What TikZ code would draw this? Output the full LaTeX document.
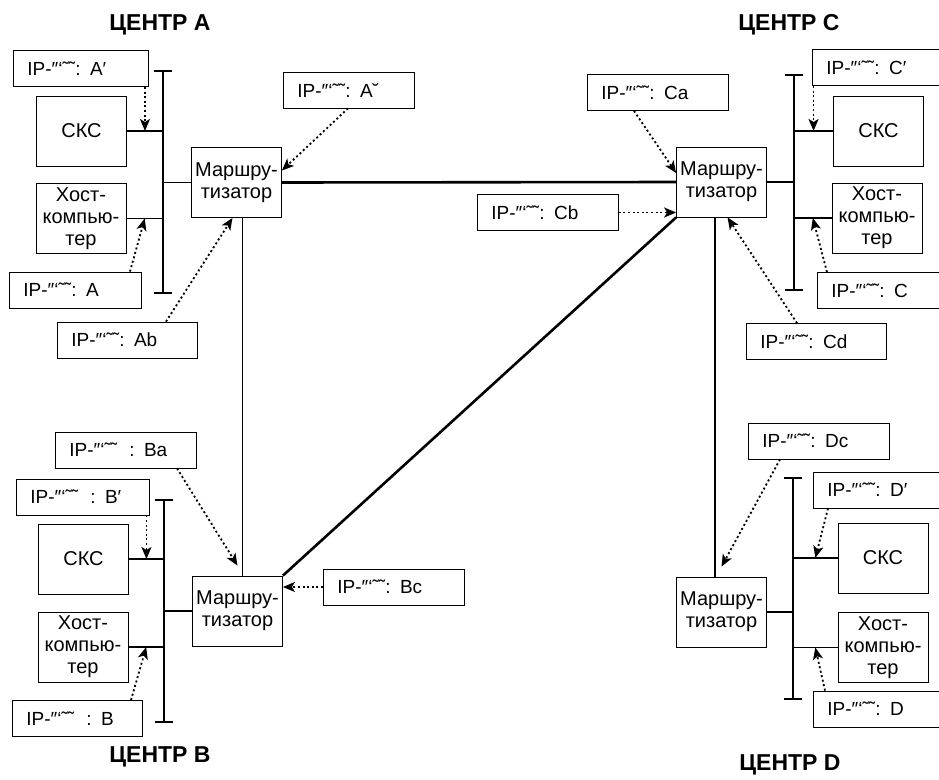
\documentclass[tikz,border=0pt]{standalone}
\usepackage{fontspec}
\setmainfont{Liberation Sans}
\usetikzlibrary{arrows.meta,calc}
\newcommand{\ipx}{IP-″‘˜˜}
\begin{document}
\begin{tikzpicture}[x=1pt,y=-1pt,
	box/.style={draw,line width=.8pt,inner sep=0pt,minimum width=90pt,minimum height=70pt,align=center,font=\fontsize{20}{22}\selectfont},
	ipbox/.style={draw,line width=.8pt,anchor=west,minimum height=36pt,text width=#1,inner xsep=14pt,inner ysep=0pt,align=left,font=\fontsize{19}{21}\selectfont},
	ipbox/.default=110pt,
	title/.style={font=\fontsize{23}{26}\selectfont\bfseries},
	bus/.style={line width=2.6pt},
	stub/.style={line width=1.6pt},
	trunk/.style={line width=2.6pt},
	iparrow/.style={dash pattern=on 2pt off 2.6pt,line width=1.8pt,-{Stealth[length=12pt,width=10pt,inset=3pt]}}]
	\useasboundingbox (0,0) rectangle (939,779);
	\clip (0,0) rectangle (939,779);
	% titles
	\node[title] (cA) at (160,25) {ЦЕНТР A};
	\node[title] (cC) at (789,25) {ЦЕНТР C};
	\node[title] (cB) at (160,757) {ЦЕНТР B};
	\node[title] (cD) at (790,765) {ЦЕНТР D};
	% routers
	\node[box] (rtA) at (236.5,182.5) {Маршру-\\тизатор};
	\node[box] (rtC) at (721.5,182) {Маршру-\\тизатор};
	\node[box] (rtB) at (237.5,611) {Маршру-\\тизатор};
	\node[box] (rtD) at (721.5,612) {Маршру-\\тизатор};
	% servers and hosts
	\node[box] (skcA) at (81.5,131) {СКС};
	\node[box] (hstA) at (81,218.5) {Хост-\\компью-\\тер};
	\node[box] (skcB) at (83.5,559) {СКС};
	\node[box] (hstB) at (83,647) {Хост-\\компью-\\тер};
	\node[box] (skcC) at (878.5,131) {СКС};
	\node[box] (hstC) at (877,218) {Хост-\\компью-\\тер};
	\node[box] (skcD) at (883,558) {СКС};
	\node[box] (hstD) at (883,647.5) {Хост-\\компью-\\тер};
	% address labels
	\node[ipbox=107pt] (ipA1) at (13,68.5) {\ipx: A′};
	\node[ipbox=103pt] (ipAr) at (283,90) {\ipx: A˘};
	\node[ipbox=104pt] (ipA) at (9,290) {\ipx: A};
	\node[ipbox=112pt] (ipAb) at (57,340) {\ipx: Ab};
	\node[ipbox=113pt] (ipCa) at (587,92.5) {\ipx: Ca};
	\node[ipbox=113pt] (ipCb) at (477,212.5) {\ipx: Cb};
	\node[ipbox] (ipC1) at (812,67.5) {\ipx: C′};
	\node[ipbox] (ipC) at (817,290.5) {\ipx: C};
	\node[ipbox=112pt] (ipCd) at (746,341.5) {\ipx: Cd};
	\node[ipbox=113pt] (ipBa) at (55,450) {\ipx\hspace{12pt}: Ba};
	\node[ipbox=105pt] (ipB1) at (16,497) {\ipx\hspace{12pt}: B′};
	\node[ipbox=102pt] (ipB) at (12,718.5) {\ipx\hspace{12pt}: B};
	\node[ipbox=113pt] (ipBc) at (323,587) {\ipx: Bc};
	\node[ipbox=113pt] (ipDc) at (748,441) {\ipx: Dc};
	\node[ipbox] (ipD1) at (813,490) {\ipx: D′};
	\node[ipbox] (ipD) at (813,709) {\ipx: D};
	% buses
	\coordinate (busAt) at (163,71); \coordinate (busAb) at (163,293);
	\coordinate (busBt) at (164,500); \coordinate (busBb) at (164,722);
	\coordinate (busCt) at (794,75); \coordinate (busCb) at (794,290);
	\coordinate (busDt) at (793,478); \coordinate (busDb) at (793,699);
	\foreach \b in {A,B,C,D}{
		\draw[bus] (bus\b t) -- (bus\b b);
		\draw[bus] ([xshift=-9pt]bus\b t) -- ([xshift=9pt]bus\b t);
		\draw[bus] ([xshift=-9pt]bus\b b) -- ([xshift=9pt]bus\b b);
	}
	\foreach \b in {A,B}{
		\draw[stub] (skc\b.east) -- (skc\b.east -| bus\b t);
		\draw[stub] (hst\b.east) -- (hst\b.east -| bus\b t);
		\draw[stub] (rt\b.west) -- (rt\b.west -| bus\b t);
		\coordinate (sk\b) at ($(skc\b.east)!.5!(skc\b.east -| bus\b t)$);
		\coordinate (ho\b) at ($(hst\b.east)!.5!(hst\b.east -| bus\b t)$);
	}
	\foreach \b in {C,D}{
		\draw[stub] (skc\b.west) -- (skc\b.west -| bus\b t);
		\draw[stub] (hst\b.west) -- (hst\b.west -| bus\b t);
		\draw[stub] (rt\b.east) -- (rt\b.east -| bus\b t);
		\coordinate (sk\b) at ($(skc\b.west)!.5!(skc\b.west -| bus\b t)$);
		\coordinate (ho\b) at ($(hst\b.west)!.5!(hst\b.west -| bus\b t)$);
	}
	% links between routers
	\draw[trunk] (rtA.east) -- (rtC.west);
	\draw[trunk] (rtB.north east) -- (rtC.south west);
	\draw[stub] ([xshift=6pt]rtA.south) -- ([xshift=6pt]rtA.south |- rtB.north);
	\draw[stub] ([xshift=-6.5pt]rtC.south) -- ([xshift=-6.5pt]rtC.south |- rtD.north);
	% addresses
	\draw[iparrow] (ipA1.south -| skA) -- (skA);
	\draw[iparrow] ([xshift=121pt]ipA.north west) -- (hoA);
	\draw[iparrow] ([xshift=109pt]ipAb.north west) -- ([xshift=-4pt]rtA.south);
	\draw[iparrow] ([xshift=65pt]ipAr.south west) -- ([yshift=12pt]rtA.east);
	\draw[iparrow] ([xshift=47pt]ipCa.south west) -- ([yshift=9pt]rtC.west);
	\draw[iparrow] (ipCb.east) -- (ipCb.east -| rtC.west);
	\draw[iparrow] ([xshift=51pt]ipCd.north west) -- ([xshift=6pt]rtC.south);
	\draw[iparrow] (ipC1.south -| skC) -- (skC);
	\draw[iparrow] ([xshift=10pt]ipC.north west) -- (hoC);
	\draw[iparrow] ([xshift=122pt]ipBa.south west) -- ([yshift=10pt]rtB.north);
	\draw[iparrow] (ipB1.south -| skB) -- (skB);
	\draw[iparrow] ([xshift=119pt]ipB.north west) -- (hoB);
	\draw[iparrow] (ipBc.west) -- (ipBc.west -| rtB.east);
	\draw[iparrow] ([xshift=32pt]ipDc.south west) -- ([yshift=10pt]rtD.north);
	\draw[iparrow] ([xshift=15pt]ipD1.south west) -- (skD);
	\draw[iparrow] ([xshift=12pt]ipD.north west) -- (hoD);
\end{tikzpicture}
\end{document}
